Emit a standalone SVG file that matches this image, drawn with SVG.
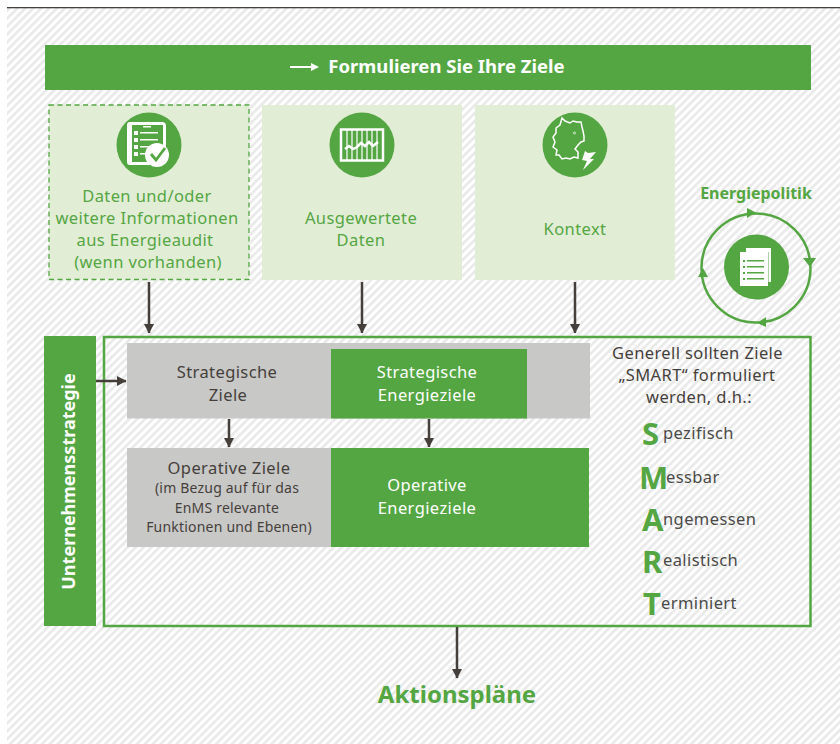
<svg xmlns="http://www.w3.org/2000/svg" width="840" height="744" viewBox="0 0 840 744">
<style>
text{font-family:"Noto Sans","Open Sans","Liberation Sans",sans-serif;text-anchor:middle}
.g{fill:#54a642}.lg{fill:#e2edd6}.gy{fill:#c8c8c7}
.t16{font-size:16.500px;letter-spacing:.4px;fill:#54a642}
.d16{font-size:16.500px;letter-spacing:.4px;fill:#453f3b}
.d13{font-size:14px;letter-spacing:.2px;fill:#453f3b}
.w16{font-size:16.500px;letter-spacing:.4px;fill:#fff}
.s{font-size:16.500px;letter-spacing:.4px;fill:#4a4a48;text-anchor:start}
.L{font-size:31px;font-weight:700;fill:#54a642;text-anchor:start}
.c{fill:none;stroke:#453f3b;stroke-width:2.500}
.wl{stroke:#fff;stroke-width:1.500;fill:none}
</style>
<defs>
<pattern id="h" width="5.600" height="5.600" patternUnits="userSpaceOnUse" patternTransform="rotate(-45)"><rect width="5.600" height="5.600" fill="#fff"/><rect y="0" width="5.600" height="2.600" fill="#e9e9e9"/></pattern>
<marker id="a" markerWidth="11" markerHeight="11" refX="9" refY="5" orient="auto" markerUnits="userSpaceOnUse"><path d="M0 0L9.500 5L0 10Z" fill="#453f3b"/></marker>
</defs>
<rect x="7" y="8" width="833" height="736" fill="url(#h)"/>
<rect x="7" y="7" width="833" height="1.300" fill="#453f3b"/>
<g id="header"><rect class="g" x="45" y="45" width="766" height="45"/>
<path d="M290 67H313" stroke="#fff" stroke-width="2"/><path d="M311 63L319 67L311 71Z" fill="#fff"/>
<text x="446.500" y="73" font-size="18.500" font-weight="700" fill="#fff">Formulieren Sie Ihre Ziele</text></g>
<g id="node-audit"><rect class="lg" x="49" y="105" width="200" height="174.500" stroke="#54a642" stroke-width="1.300" stroke-dasharray="5 3.500"/>
<circle class="g" cx="149" cy="145" r="32.500"/>
<path fill="#fff" d="M130 122H162Q166 122 166 126V154H160L150 165H130Q127 165 127 162V125Q127 122 130 122Z"/>
<path class="g" d="M132 125H163V155L150 162H132Z"/>
<rect x="143" y="126" width="8" height="1.500" fill="#fff"/>
<g fill="#fff"><rect x="134" y="131" width="4" height="4"/><rect x="134" y="138" width="4" height="4"/><rect x="134" y="145" width="4" height="4"/><rect x="134" y="152" width="4" height="4"/>
<rect x="140" y="132" width="18" height="1.500"/><rect x="140" y="139" width="18" height="1.500"/><rect x="140" y="146" width="12" height="1.500"/><rect x="140" y="153" width="6" height="1.500"/></g>
<circle cx="157" cy="155" r="12" fill="#fff"/><path d="M151 154L156 160L165 148" fill="none" stroke="#54a642" stroke-width="2.800"/>
<text class="t16" x="147" y="202">Daten und/oder</text><text class="t16" x="147" y="224">weitere Informationen</text><text class="t16" x="145" y="246">aus Energieaudit</text><text class="t16" x="148" y="268">(wenn vorhanden)</text></g>
<g id="node-data"><rect class="lg" x="262" y="105" width="200" height="175"/>
<circle class="g" cx="362" cy="145" r="32.500"/>
<rect class="wl" style="stroke-width:2.500" x="341" y="129.500" width="42" height="31"/>
<path stroke="#fff" stroke-width="1.200" d="M347 130V160M352 130V160M357 130V160M362 130V160M367 130V160M372 130V160M377 130V160"/>
<path class="wl" style="stroke-width:2.500" d="M345 149L349 146L353 149L357 147L361 143L365 146L369 142L373 146L378 142"/>
<text class="t16" x="361" y="224">Ausgewertete</text><text class="t16" x="361" y="246">Daten</text></g>
<g id="node-context"><rect class="lg" x="475" y="105" width="200" height="175"/>
<circle class="g" cx="575" cy="145" r="32.500"/>
<path class="wl" d="M562 118L565 121L570 123L573 121L577 122L581 122L582 127L583 131L584 136L584 141L581 142L578 145L575 149L578 152L578 158L574 157L570 159L566 158L562 159L559 155L556 155L557 150L553 147L555 142L553 137L556 133L556 128L560 125Z"/>
<circle cx="574.500" cy="133" r="1" fill="none" stroke="#fff" stroke-width=".7"/>
<path fill="#fff" d="M585 151L588 153L596 152L590 159H594L583 170L587 161L582 160Z"/>
<text class="t16" x="575" y="235">Kontext</text></g>
<g id="node-policy"><text x="756" y="199" font-size="16" font-weight="700" fill="#54a642">Energiepolitik</text>
<circle cx="756" cy="268" r="54.500" fill="none" stroke="#54a642" stroke-width="2.500"/>
<path class="g" d="M747 208L756 212.500L747 218ZM803 258L816 258L810 267ZM698 277L708 277L703 268ZM766 317V327L757 323Z"/>
<circle class="g" cx="756.500" cy="267" r="32.500"/>
<path d="M746 248H771V282H768V285H746Z" fill="#fff"/>
<path d="M768 252V284" stroke="#54a642" stroke-width="1"/>
<rect x="740" y="252" width="28" height="34" fill="#fff"/>
<g fill="#54a642"><rect x="743" y="260" width="2" height="2"/><rect x="743" y="266" width="2" height="2"/><rect x="743" y="272" width="2" height="2"/><rect x="743" y="278" width="2" height="2"/><rect x="747" y="260" width="17" height="1.500"/><rect x="747" y="266" width="17" height="1.500"/><rect x="747" y="272" width="17" height="1.500"/><rect x="747" y="278" width="17" height="1.500"/></g></g>
<g id="node-frame"><rect x="104" y="337" width="706.500" height="289" fill="none" stroke="#54a642" stroke-width="2.500"/></g>
<g id="node-strategy"><rect class="g" x="44" y="336" width="52" height="290"/>
<text transform="translate(75 481.500) rotate(-90)" font-size="18" font-weight="700" fill="#fff">Unternehmensstrategie</text></g>
<g id="node-sz"><rect class="gy" x="127" y="343" width="463" height="75.500"/>
<text class="d16" x="227" y="378">Strategische</text><text class="d16" x="228" y="401">Ziele</text></g>
<g id="node-se"><rect class="g" x="331" y="349" width="196" height="69.500"/>
<text class="w16" x="427" y="378">Strategische</text><text class="w16" x="427" y="401">Energieziele</text></g>
<g id="node-oz"><rect class="gy" x="127" y="448" width="204" height="99"/>
<text class="d16" x="229" y="474">Operative Ziele</text><text class="d13" x="227" y="493">(im Bezug auf für das</text><text class="d13" x="227" y="513">EnMS relevante</text><text class="d13" x="229" y="532">Funktionen und Ebenen)</text></g>
<g id="node-oe"><rect class="g" x="331" y="448" width="258" height="99"/>
<text class="w16" x="427" y="491">Operative</text><text class="w16" x="427" y="514">Energieziele</text></g>
<g id="smart"><text class="d16" x="697.500" y="359">Generell sollten Ziele</text><text class="d16" x="697" y="381">„SMART“ formuliert</text><text class="d16" x="699" y="403">werden, d.h.:</text>
<text class="L" x="642" y="445">S</text><text class="s" x="663" y="439">pezifisch</text>
<text class="L" x="639" y="489">M</text><text class="s" x="666" y="483">essbar</text>
<text class="L" x="642" y="531">A</text><text class="s" x="663" y="525">ngemessen</text>
<text class="L" x="642" y="573">R</text><text class="s" x="663" y="566">ealistisch</text>
<text class="L" x="643" y="615">T</text><text class="s" x="661" y="609">erminiert</text></g>
<g id="connectors">
<path class="c" marker-end="url(#a)" d="M149 282V333"/><path class="c" marker-end="url(#a)" d="M362 282V333"/><path class="c" marker-end="url(#a)" d="M575 282V333"/>
<path class="c" marker-end="url(#a)" d="M96 381H126"/><path class="c" marker-end="url(#a)" d="M229 419V447"/><path class="c" marker-end="url(#a)" d="M429 419V447"/><path class="c" marker-end="url(#a)" d="M457 627V678"/>
</g>
<text x="457" y="703" font-size="24" font-weight="700" fill="#54a642">Aktionspläne</text>
</svg>
